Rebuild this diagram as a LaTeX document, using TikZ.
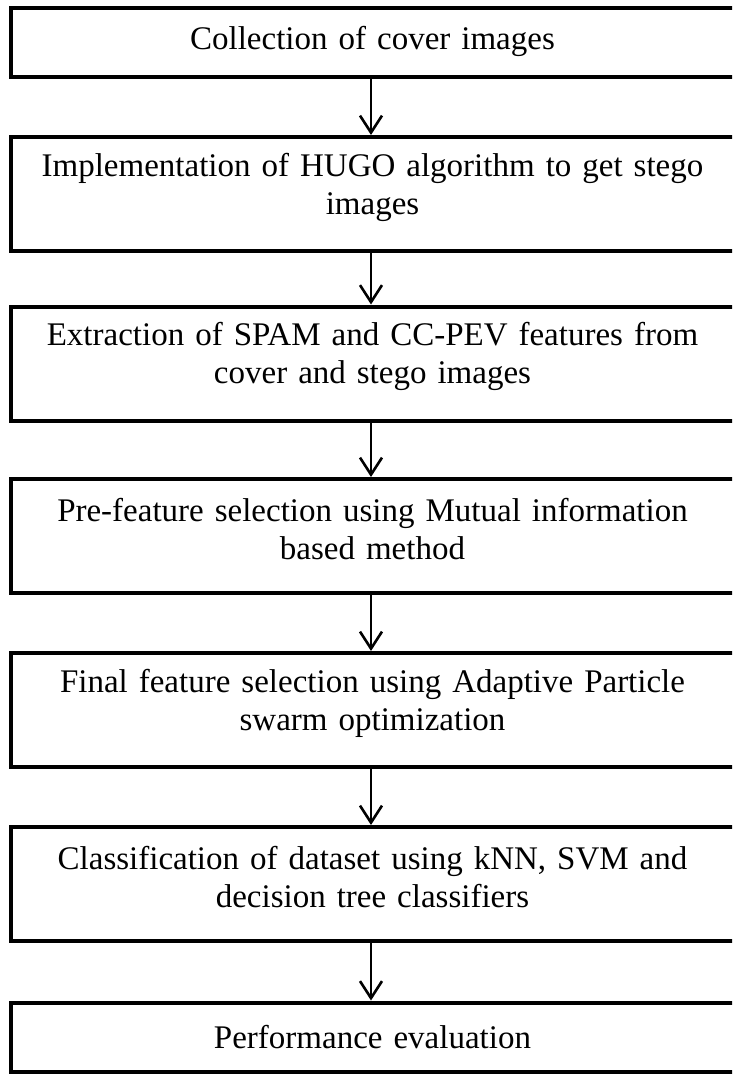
\documentclass[tikz,border=0pt]{standalone}
\usepackage{fontspec}
\setmainfont{Liberation Serif}
\usetikzlibrary{arrows.meta}

\tikzset{
  frame/.style={draw=black, line width=4pt, rectangle, inner sep=0pt,
    minimum width=760pt},
  tall/.style={minimum height=114pt},
  short/.style={minimum height=69pt},
  caption/.style={text width=700pt, align=center, inner sep=0pt,
    font=\fontsize{33}{38}\selectfont},
  flow/.style={draw=black, line width=2.6pt,
    -{Straight Barb[length=17pt,width=22pt,line width=2.6pt]}}
}

\begin{document}
\begin{tikzpicture}[x=1pt,y=-1pt]
  \useasboundingbox (0,0) rectangle (732,1075);
  \clip (0,0) rectangle (732,1075);

  % stage frames (left edge at x=11, right edge runs past the page)
  \node[frame, short] (b1) at (391,42.5)  {};
  \node[frame, tall]  (b2) at (391,194)   {};
  \node[frame, tall]  (b3) at (391,363.5) {};
  \node[frame, tall]  (b4) at (391,536)   {};
  \node[frame, tall]  (b5) at (391,710)   {};
  \node[frame, tall]  (b6) at (391,884)   {};
  \node[frame, short] (b7) at (391,1037)  {};

  % stage captions
  \node[caption] (t1) at (372.5,41) {Collection of cover images};
  \node[caption] (t2) at (372.5,187)
    {Implementation of HUGO algorithm to get stego\\images};
  \node[caption] (t3) at (372.5,356.5)
    {Extraction of SPAM and CC-PEV features from\\cover and stego images};
  \node[caption] (t4) at (372.5,529)
    {Pre-feature selection using Mutual information\\based method};
  \node[caption] (t5) at (372.5,703)
    {Final feature selection using Adaptive Particle\\swarm optimization};
  \node[caption] (t6) at (372.5,877)
    {Classification of dataset using kNN, SVM and\\decision tree classifiers};
  \node[caption] (t7) at (372.5,1037) {Performance evaluation};

  % connectors between consecutive stages
  \foreach \a/\b in {b1/b2,b2/b3,b3/b4,b4/b5,b5/b6,b6/b7}
    \draw[flow] ([xshift=-20pt]\a.south) -- ([xshift=-20pt]\b.north);
\end{tikzpicture}
\end{document}
